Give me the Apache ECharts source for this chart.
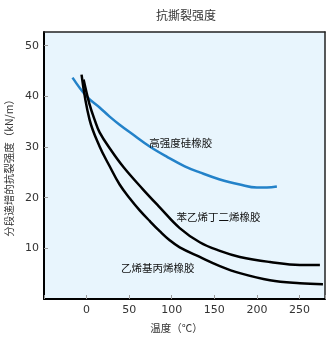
<!DOCTYPE html>
<html><head><meta charset="utf-8">
<script src="https://cdn.jsdelivr.net/npm/echarts@6/dist/echarts.min.js"></script>
<style>html,body{margin:0;padding:0;background:#fff}#c{width:328px;height:337px}</style>
</head><body><div id="c"></div>
<script>
const titleText = '抗撕裂强度';
const xName = '温度（℃）';
const yName = '分段递增的抗裂强度（kN/m）';
const xTicks = [0, 50, 100, 150, 200, 250];
const yTicks = [10, 20, 30, 40, 50];
const seriesNames = ['高强度硅橡胶', '苯乙烯丁二烯橡胶', '乙烯基丙烯橡胶'];
// [temperature, strength]
const siliconeData = [[-16.5,43.7],[0,40.0],[15.3,37.8],[27.1,36.0],[38.8,34.4],[54.1,32.5],[74.1,30.1],[94.1,28.1],[115.3,26.2],[132.9,25.0],[156.5,23.6],[180,22.6],[200,22.0],[211.8,22.0],[223.5,22.2]];
const sbrData = [[-3.5,43.3],[3.5,38.4],[9.4,35.4],[15.3,32.9],[28.2,29.5],[43.5,26.0],[65.9,21.7],[85.9,18.1],[109.4,14.0],[132.9,11.2],[156.5,9.5],[180,8.3],[215.3,7.3],[250.6,6.7],[274,6.7]];
const epdmData = [[-5.9,44.3],[3.5,35.4],[15.3,30.1],[27.1,26.2],[38.8,22.6],[50.6,19.9],[62.4,17.5],[74.1,15.4],[85.9,13.4],[97.6,11.6],[109.4,10.2],[132.9,8.3],[156.5,6.5],[180,5.1],[215.3,3.7],[250.6,3.1],[277.6,2.9]];
// label anchor positions in data units
const labelAt = [[110.5,30.8],[155,16.2],[83.6,6.1]];
const xRange = [-50, 280];
const yRange = [0, 52.7];

const font = 'Noto Sans CJK SC';
const chart = echarts.init(document.getElementById('c'), null, {renderer:'canvas'});
function mkSeries(name, data, color, lab){
  return {
    name, type:'line', data, smooth:0.4, showSymbol:false, symbol:'none',
    lineStyle:{color, width:2.5}, z:3,
    markPoint:{symbol:'circle', symbolSize:0, data:[{coord:lab, value:name}],
      label:{show:true, position:'inside', formatter:name, color:'#111', fontSize:10.5, fontFamily:font}}
  };
}
const frameAxis = {show:true, axisLine:{show:true, onZero:false, lineStyle:{color:'#222', width:1.5}},
  axisTick:{show:false}, axisLabel:{show:false}, splitLine:{show:false}};
chart.setOption({
  animation:false,
  title:{text:titleText, left:181, top:4, textAlign:'center',
    textStyle:{fontSize:12, fontWeight:'normal', color:'#333', fontFamily:font}},
  grid:{left:44, right:3, top:32, bottom:38, show:false, containLabel:false, outerBoundsMode:'none'},
  xAxis:[{type:'value', min:xRange[0], max:xRange[1], interval:50,
    name:xName, nameLocation:'middle', nameGap:24,
    nameTextStyle:{fontSize:10.5, color:'#333', fontFamily:font, padding:[0,16,0,0]},
    axisLine:{show:true, onZero:false, lineStyle:{color:'#000', width:2}},
    axisTick:{show:true, inside:true, length:4, lineStyle:{color:'#999'}},
    axisLabel:{margin:6, fontSize:11, color:'#333', fontFamily:'DejaVu Sans',
      formatter:v=> xTicks.includes(v) ? String(v) : ''},
    splitLine:{show:false}, z:5},
    Object.assign({type:'value', min:xRange[0], max:xRange[1], position:'top', z:5}, frameAxis)],
  yAxis:[{type:'value', min:yRange[0], max:yRange[1], interval:10,
    name:yName, nameLocation:'middle', nameGap:30, nameRotate:90,
    nameTextStyle:{fontSize:10.5, color:'#333', fontFamily:font},
    axisLine:{show:true, onZero:false, lineStyle:{color:'#000', width:2}},
    axisTick:{show:true, inside:true, length:4, lineStyle:{color:'#999'},
      customValues: yTicks},
    axisLabel:{margin:5, fontSize:11, color:'#333', fontFamily:'DejaVu Sans',
      customValues: yTicks, formatter:v=> yTicks.includes(v) ? String(v) : ''},
    splitLine:{show:false}, z:5},
    Object.assign({type:'value', min:yRange[0], max:yRange[1], position:'right', z:5}, frameAxis)],
  series:[
    {type:'line', data:[], z:-1, silent:true,
      markArea:{silent:true, itemStyle:{color:'#E8F5FD'},
        data:[[{coord:[xRange[0], yRange[0]]},{coord:[xRange[1], yRange[1]]}]]}},
    mkSeries(seriesNames[0], siliconeData, '#2382C9', labelAt[0]),
    mkSeries(seriesNames[1], sbrData, '#000', labelAt[1]),
    mkSeries(seriesNames[2], epdmData, '#000', labelAt[2])
  ]
});
</script></body></html>
